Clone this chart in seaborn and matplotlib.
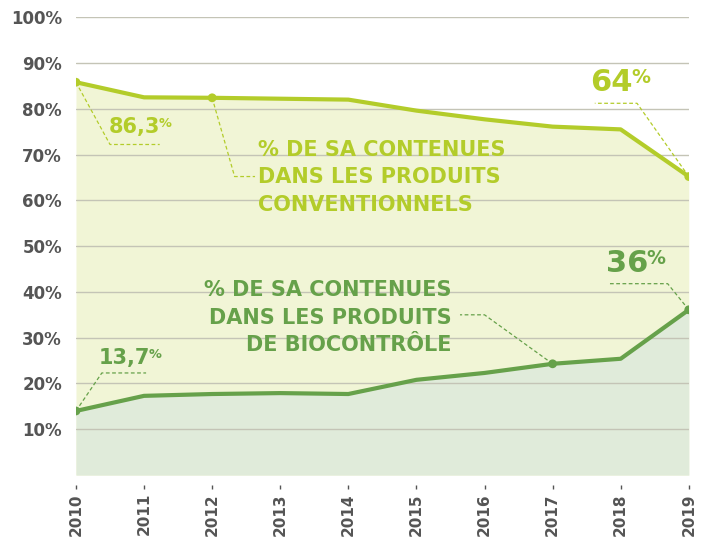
import numpy as np
import pandas as pd
import matplotlib
matplotlib.use("Agg")
import matplotlib.pyplot as plt
import seaborn as sns

# données
years = list(range(2010, 2020))
conv = [85.8, 82.5, 82.4, 82.2, 82.0, 79.6, 77.7, 76.1, 75.5, 65.2]   # produits conventionnels
bio = [14.0, 17.3, 17.7, 17.9, 17.7, 20.8, 22.3, 24.3, 25.4, 36.1]    # produits de biocontrôle
conv_marks = [2010, 2012, 2019]
bio_marks = [2010, 2017, 2019]
yticks = [10, 20, 30, 40, 50, 60, 70, 80, 90, 100]
conv_label = "% DE SA CONTENUES\nDANS LES PRODUITS\nCONVENTIONNELS"
bio_label = "% DE SA CONTENUES\nDANS LES PRODUITS\nDE BIOCONTRÔLE"

df = pd.DataFrame({"annee": years, "conv": conv, "bio": bio})

sns.set_theme(style="white")
plt.rcParams["font.family"] = ["DejaVu Sans"]

C_CONV = "#b3cc2a"
C_BIO = "#66a14a"
F_CONV = "#f1f5d6"
F_BIO = "#e0ebda"
GREY = "#555555"

fig = plt.figure(figsize=(7.06, 5.38), dpi=100)
ax = fig.add_axes([0.1076, 0.117, 0.868, 0.851])

ax.fill_between(df["annee"], 0, df["conv"], color=F_CONV, lw=0, zorder=1)
ax.fill_between(df["annee"], 0, df["bio"], color=F_BIO, lw=0, zorder=1)

sns.lineplot(data=df, x="annee", y="conv", color=C_CONV, lw=3.0, ax=ax, zorder=4)
sns.lineplot(data=df, x="annee", y="bio", color=C_BIO, lw=3.0, ax=ax, zorder=4)
m1 = df[df["annee"].isin(conv_marks)]
m2 = df[df["annee"].isin(bio_marks)]
sns.scatterplot(data=m1, x="annee", y="conv", color=C_CONV, s=40, edgecolor="none", ax=ax, zorder=5)
sns.scatterplot(data=m2, x="annee", y="bio", color=C_BIO, s=40, edgecolor="none", ax=ax, zorder=5)

ax.set_xlim(2010, 2019)
ax.set_ylim(0, 100)
ax.set_yticks(yticks)
ax.set_yticklabels([f"{v}%" for v in yticks])
ax.set_xticks(years)
ax.set_xticklabels([str(y) for y in years])
ax.set_xlabel("")
ax.set_ylabel("")
for s in ax.spines.values():
    s.set_visible(False)
ax.spines["bottom"].set_position(("outward", 7))
ax.grid(axis="y", color="#c4c4b6", lw=1.0, zorder=2.5)
ax.set_axisbelow(False)
ax.tick_params(axis="y", length=0, pad=10, labelsize=12, labelcolor=GREY)
ax.tick_params(axis="x", length=3, width=1, color=GREY, direction="out",
               pad=3, labelsize=11, labelcolor=GREY, bottom=True, labelrotation=90)
for t in ax.get_xticklabels() + ax.get_yticklabels():
    t.set_fontweight("bold")


def leader(p, elbow, end, color):
    ax.plot([p[0], elbow[0], end[0]], [p[1], elbow[1], end[1]], ls=(0, (3, 2)),
            lw=0.9, color=color, zorder=3)


def value(x, y, num, size, color):
    t = ax.text(x, y, num, fontsize=size, fontweight="bold", color=color,
                ha="left", va="top", zorder=6)
    ax.annotate("%", xy=(1, 1), xycoords=t, xytext=(-1, 0),
                textcoords="offset points", fontsize=size * 0.62, fontweight="bold",
                color=color, ha="left", va="top", zorder=6)


# conventionnels
leader((2010, conv[0]), (2010.5, 72.2), (2011.23, 72.2), C_CONV)
value(2010.48, 78.2, "86,3", 15, C_CONV)
leader((2012, conv[2]), (2012.33, 65.2), (2012.63, 65.2), C_CONV)
ax.text(2012.68, 65.0, conv_label, fontsize=15, fontweight="bold", color=C_CONV,
        ha="left", va="center", linespacing=1.48, zorder=6)
leader((2019, conv[9]), (2018.24, 81.2), (2017.62, 81.2), C_CONV)
value(2017.55, 89.0, "64", 22, C_CONV)

# biocontrôle
leader((2010, bio[0]), (2010.38, 22.3), (2011.03, 22.3), C_BIO)
value(2010.33, 27.8, "13,7", 15, C_BIO)
leader((2017, bio[7]), (2016.0, 35.0), (2015.64, 35.0), C_BIO)
ax.text(2015.52, 34.4, bio_label, fontsize=15, fontweight="bold", color=C_BIO,
        ha="right", va="center", linespacing=1.48, multialignment="right", zorder=6)
leader((2019, bio[9]), (2018.69, 41.8), (2017.81, 41.8), C_BIO)
value(2017.78, 49.3, "36", 22, C_BIO)

fig.savefig("out.png", dpi=100)
